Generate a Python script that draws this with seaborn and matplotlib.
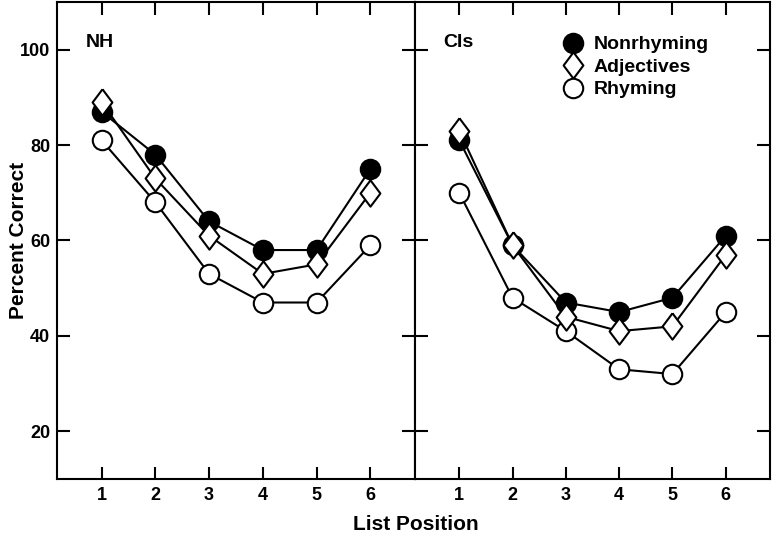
import seaborn as sns
import matplotlib.pyplot as plt
import pandas as pd
from matplotlib.lines import Line2D

# data
positions = [1, 2, 3, 4, 5, 6]
nh_nonrhyming = [87, 78, 64, 58, 58, 75]
nh_adjectives = [89, 73, 61, 53, 55, 70]
nh_rhyming = [81, 68, 53, 47, 47, 59]
ci_nonrhyming = [81, 59, 47, 45, 48, 61]
ci_adjectives = [83, 59, 44, 41, 42, 57]
ci_rhyming = [70, 48, 41, 33, 32, 45]
yticks = [20, 40, 60, 80, 100]

sns.set_style("ticks")
plt.rcParams['font.family'] = ['Liberation Sans', 'DejaVu Sans']
plt.rcParams['font.weight'] = 'bold'
plt.rcParams['axes.labelweight'] = 'bold'
plt.rcParams['text.color'] = 'black'
plt.rcParams['axes.labelcolor'] = 'black'
plt.rcParams['xtick.color'] = 'black'
plt.rcParams['ytick.color'] = 'black'
plt.rcParams['axes.edgecolor'] = 'black'

fig = plt.figure(figsize=(7.75, 5.35), dpi=100)
ax1 = fig.add_axes([57/775, 1 - 479/535, 358/775, 477/535])
ax2 = fig.add_axes([415/775, 1 - 479/535, 355/775, 477/535])

# wide open diamond like the original
diamond = [(0, 1), (0.75, 0), (0, -1), (-0.75, 0), (0, 1)]

styles = {
    "Rhyming": dict(marker="o", mfc="white", ms=14),
    "Nonrhyming": dict(marker="o", mfc="black", ms=14),
    "Adjectives": dict(marker=diamond, mfc="white", ms=19),
}

panels = [
    (ax1, "NH", {"Nonrhyming": nh_nonrhyming, "Adjectives": nh_adjectives, "Rhyming": nh_rhyming}),
    (ax2, "CIs", {"Nonrhyming": ci_nonrhyming, "Adjectives": ci_adjectives, "Rhyming": ci_rhyming}),
]

for ax, name, series in panels:
    for label in ["Rhyming", "Nonrhyming", "Adjectives"]:
        df = pd.DataFrame({"pos": positions, "pct": series[label]})
        st = styles[label]
        sns.lineplot(data=df, x="pos", y="pct", ax=ax, color="black", linewidth=1.5,
                     marker=st["marker"], markersize=st["ms"], markerfacecolor=st["mfc"],
                     markeredgecolor="black", markeredgewidth=1.5)
    ax.set_xlim(0.17, 6.83)
    ax.set_ylim(10, 110)
    ax.set_xticks(positions)
    ax.set_yticks(yticks)
    ax.tick_params(direction="in", length=9, width=1.5, top=True, right=True,
                   labelsize=13, pad=6)
    ax.tick_params(axis="y", length=9.5, pad=5)
    for sp in ax.spines.values():
        sp.set_linewidth(1.5)
    ax.set_xlabel("")
    ax.set_ylabel("")
    ax.text(0.7, 101.5, name, fontsize=14, va="center", ha="left")

ax1.set_ylabel("Percent Correct", fontsize=15, fontweight="bold")
ax1.yaxis.set_label_coords(-0.08, 0.5)
ax2.tick_params(axis="y", labelleft=False)

handles = [
    Line2D([], [], linestyle="none", marker="o", ms=14, mfc="black", mec="black", mew=1.5),
    Line2D([], [], linestyle="none", marker=diamond, ms=19, mfc="white", mec="black", mew=1.5),
    Line2D([], [], linestyle="none", marker="o", ms=14, mfc="white", mec="black", mew=1.5),
]
ax2.legend(handles, ["Nonrhyming", "Adjectives", "Rhyming"], loc="upper left",
           bbox_to_anchor=(0.418, 0.929), frameon=False, fontsize=14,
           borderpad=0, borderaxespad=0, handlelength=1.0, handletextpad=0.55,
           labelspacing=0.25)

fig.text(416/775, 1 - 525/535, "List Position", fontsize=15, fontweight="bold",
         ha="center", va="center")

fig.savefig("out.png", dpi=100)
